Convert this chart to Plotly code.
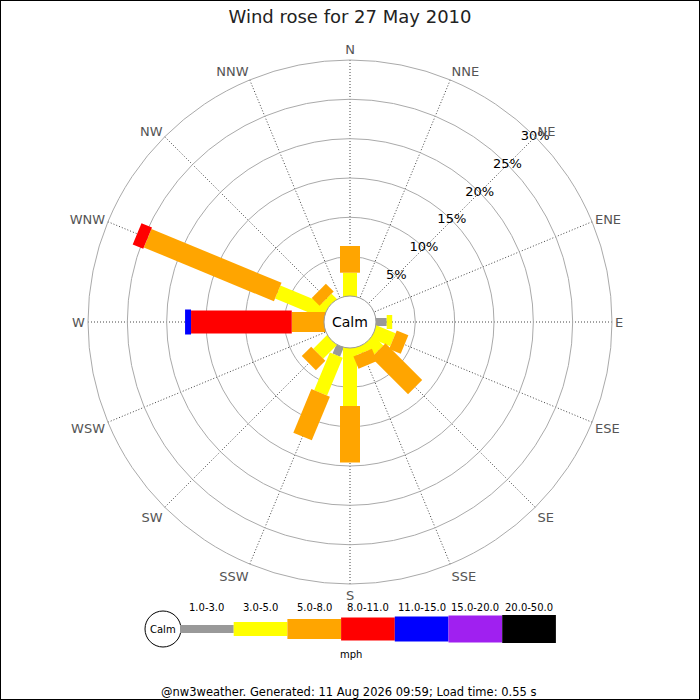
import plotly.graph_objects as go

# Richtungen (16 Sektoren, im Uhrzeigersinn ab Nord)
directions = ['N', 'NNE', 'NE', 'ENE', 'E', 'ESE', 'SE', 'SSE',
              'S', 'SSW', 'SW', 'WSW', 'W', 'WNW', 'NW', 'NNW']

# Geschwindigkeitsklassen (mph)
speed_bins = ['1.0-3.0', '3.0-5.0', '5.0-8.0', '8.0-11.0',
              '11.0-15.0', '15.0-20.0', '20.0-50.0']
bin_colors = ['#999999', '#ffff00', '#ffa500', '#ff0000',
              '#0000ff', '#a020f0', '#000000']
bin_widths = [8, 14, 20, 23, 25, 27, 28]  # px

# Häufigkeit in % je Klasse, Reihenfolge wie directions
freq_1_3 = [0, 0, 0, 0, 1.36, 0, 0, 0, 0, 1.25, 0, 0, 0, 0, 0, 0]
freq_3_5 = [2.96, 0, 0, 0, 0.7, 2.6, 1.8, 0.9, 7.37, 5.2, 2.4, 0, 0, 6.64, 0.9, 0]
freq_5_8 = [3.4, 0, 0, 0, 0, 1.6, 6.6, 1.7, 7.2, 6.0, 1.7, 0, 4.1, 17.9, 1.4, 0]
freq_8_11 = [0, 0, 0, 0, 0, 0, 0, 0, 0, 0, 0, 0, 12.8, 1.45, 0, 0]
freq_11_15 = [0, 0, 0, 0, 0, 0, 0, 0, 0, 0, 0, 0, 0.76, 0, 0, 0]
freq_15_20 = [0] * 16
freq_20_50 = [0] * 16
freqs = [freq_1_3, freq_3_5, freq_5_8, freq_8_11, freq_11_15, freq_15_20, freq_20_50]

ring_vals = [5, 10, 15, 20, 25, 30]
ring_text = ['5%', '10%', '15%', '20%', '25%', '30%']

W, H = 700, 700
cx, cy, R, r_calm = 350, 322, 262, 26
r_min = -30 * r_calm / (R - r_calm)  # Radius 0 liegt am Rand des Calm-Kreises

fig = go.Figure()

# gestapelte Balken als dicke Linien (rechteckig wie im Original)
cum = [0.0] * 16
for i, vals in enumerate(freqs):
    rr, tt = [], []
    for j, v in enumerate(vals):
        if v <= 0:
            continue
        start = cum[j] if cum[j] > 0 else r_min / 2
        rr += [start, cum[j] + v, None]
        tt += [directions[j], directions[j], None]
        cum[j] += v
    if rr:
        fig.add_trace(go.Scatterpolar(
            r=rr, theta=tt, mode='lines',
            line=dict(color=bin_colors[i], width=bin_widths[i]),
            hoverinfo='skip', showlegend=False
        ))

# Beschriftung der Ringe entlang NE
fig.add_trace(go.Scatterpolar(
    r=ring_vals, theta=['NE'] * len(ring_vals), mode='text',
    text=ring_text, textfont=dict(family='DejaVu Sans', size=13, color='#000'),
    hoverinfo='skip', showlegend=False
))

def px(x):
    return x / W

def py(y):
    return 1 - y / H

def label(text, x, y, size):
    return dict(text=text, x=px(x), y=py(y), xref='paper', yref='paper',
                xanchor='center', yanchor='middle', showarrow=False,
                font=dict(family='DejaVu Sans', size=size, color='#000'))

shapes = []
# Calm-Kreis in der Mitte
shapes.append(dict(type='circle', xref='paper', yref='paper', layer='above',
                   x0=px(cx - r_calm), x1=px(cx + r_calm),
                   y0=py(cy + r_calm), y1=py(cy - r_calm),
                   fillcolor='white', line=dict(color='#999999', width=1)))
annotations = [label('Calm', cx, cy, 14)]

# Legende unten
lx0, lstep, ly = 180, 53.7, 629
shapes.append(dict(type='circle', xref='paper', yref='paper',
                   x0=px(145), x1=px(181), y0=py(ly + 18), y1=py(ly - 18),
                   fillcolor='white', line=dict(color='#000', width=1)))
annotations.append(label('Calm', 163, ly, 10))
for i, lab in enumerate(speed_bins):
    x0 = lx0 + i * lstep
    x1 = x0 + lstep
    hw = bin_widths[i] / 2
    shapes.append(dict(type='rect', xref='paper', yref='paper', layer='above',
                       x0=px(x0), x1=px(x1), y0=py(ly + hw), y1=py(ly - hw),
                       fillcolor=bin_colors[i], line=dict(width=0)))
    annotations.append(label(lab, (x0 + x1) / 2, 607, 10))
annotations.append(label('mph', 351, 654, 10))
annotations.append(label('@nw3weather. Generated: 11 Aug 2026 09:59; Load time: 0.55 s',
                         348, 692, 11.5))

# Rahmen
shapes.append(dict(type='rect', xref='paper', yref='paper', x0=0, x1=1, y0=0, y1=1,
                   line=dict(color='#000', width=2), layer='above'))

fig.update_layout(
    width=W, height=H,
    margin=dict(l=0, r=0, t=0, b=0),
    paper_bgcolor='white',
    title=dict(text='Wind rose for 27 May 2010', x=0.5, xanchor='center',
               y=py(17), yanchor='middle',
               font=dict(family='DejaVu Sans', size=18, color='#222')),
    polar=dict(
        domain=dict(x=[px(cx - R), px(cx + R)], y=[py(cy + R), py(cy - R)]),
        bgcolor='white',
        angularaxis=dict(
            type='category', categoryarray=directions,
            direction='clockwise', rotation=90,
            showline=True, linecolor='#aaaaaa', linewidth=1,
            showgrid=True, gridcolor='#444444', gridwidth=1, griddash='1px,2px',
            ticks='', tickfont=dict(family='DejaVu Sans', size=13, color='#555555')
        ),
        radialaxis=dict(
            range=[r_min, 30], tickvals=ring_vals,
            showticklabels=False, ticks='', showline=False,
            showgrid=True, gridcolor='#aaaaaa', gridwidth=1
        )
    ),
    shapes=shapes,
    annotations=annotations,
    showlegend=False
)

# Seitenrand entfernen, damit die Grafik bei (0, 0) beginnt
fig.write_html('out.html', config={'displayModeBar': False},
               post_script="document.body.style.margin='0';document.body.style.overflow='hidden';")
